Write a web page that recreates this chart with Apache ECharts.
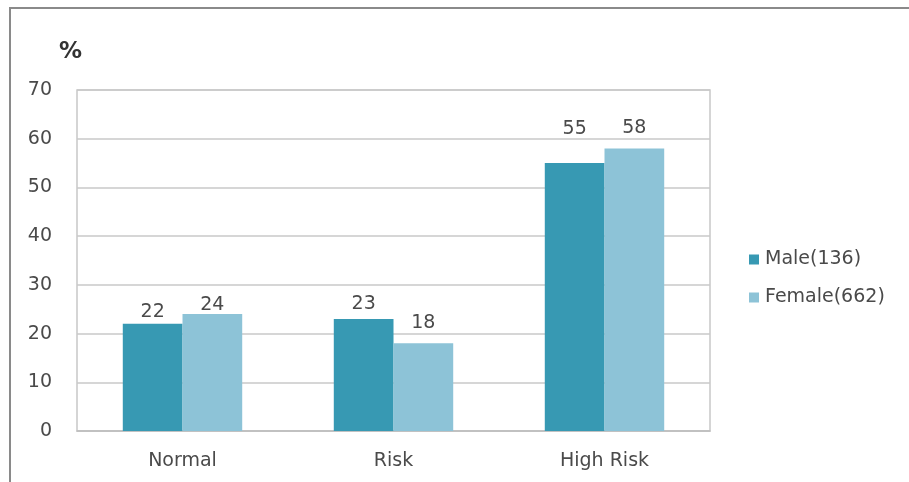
<!DOCTYPE html>
<html><head><meta charset="utf-8">
<script src="https://cdn.jsdelivr.net/npm/echarts@6/dist/echarts.min.js"></script>
<style>
html,body{margin:0;padding:0;background:#fff;}
#c{width:909px;height:482px;position:relative;}
#frame{position:absolute;left:9px;top:7px;width:920px;height:500px;border:2px solid #8a8a8a;box-sizing:border-box;pointer-events:none;}
</style></head>
<body>
<div id="c"></div>
<div id="frame"></div>
<script>
const categories = ['Normal', 'Risk', 'High Risk'];
const maleValues = [22, 23, 55];
const femaleValues = [24, 18, 58];
const seriesNames = ['Male(136)', 'Female(662)'];
const yTicks = [0, 10, 20, 30, 40, 50, 60, 70];

// label lift (style only, pixels above the bar top)
const maleLift = [2, 5, 25];
const femaleLift = [0, 11, 11];

const FONT = 'DejaVu Sans';
const TXT = '#4a4a4a';
const chart = echarts.init(document.getElementById('c'));
function items(vals, lifts) {
  return vals.map((v, i) => ({value: v, label: {offset: [0, -lifts[i]]}}));
}
const labelStyle = {show: true, position: 'top', color: TXT, fontSize: 19, fontFamily: FONT, distance: 0};
chart.setOption({
  animation: false,
  textStyle: {fontFamily: FONT},
  title: {text: '%', left: 54, top: 36, textStyle: {fontSize: 23, fontWeight: 'bold', color: '#333', fontFamily: FONT}},
  grid: {left: 77, right: 199, top: 90, bottom: 51, show: true, borderColor: '#c8c8c8', borderWidth: 1.5},
  legend: {
    orient: 'vertical', left: 744, top: 245, itemWidth: 10, itemHeight: 10, itemGap: 19,
    icon: 'rect',
    textStyle: {fontSize: 19, color: TXT, fontFamily: FONT, padding: [0, 0, 0, 1]},
    data: seriesNames
  },
  xAxis: {
    type: 'category', data: categories,
    axisLine: {show: true, lineStyle: {color: '#bdbdbd', width: 1.5}},
    axisTick: {show: false},
    axisLabel: {color: TXT, fontSize: 19, margin: 21}
  },
  yAxis: {
    type: 'value', min: 0, max: 70, interval: 10,
    axisLine: {show: false}, axisTick: {show: false},
    axisLabel: {color: TXT, fontSize: 19, margin: 25, formatter: v => yTicks.includes(v) ? String(v) : ''},
    splitLine: {lineStyle: {color: '#c8c8c8', width: 1.5}}
  },
  series: [
    {name: seriesNames[0], type: 'bar', data: items(maleValues, maleLift), barWidth: '28.3%', barGap: '0%',
     itemStyle: {color: '#3799b3'}, label: labelStyle},
    {name: seriesNames[1], type: 'bar', data: items(femaleValues, femaleLift), barWidth: '28.3%',
     itemStyle: {color: '#8dc3d7'}, label: labelStyle}
  ]
});
</script>
</body></html>
